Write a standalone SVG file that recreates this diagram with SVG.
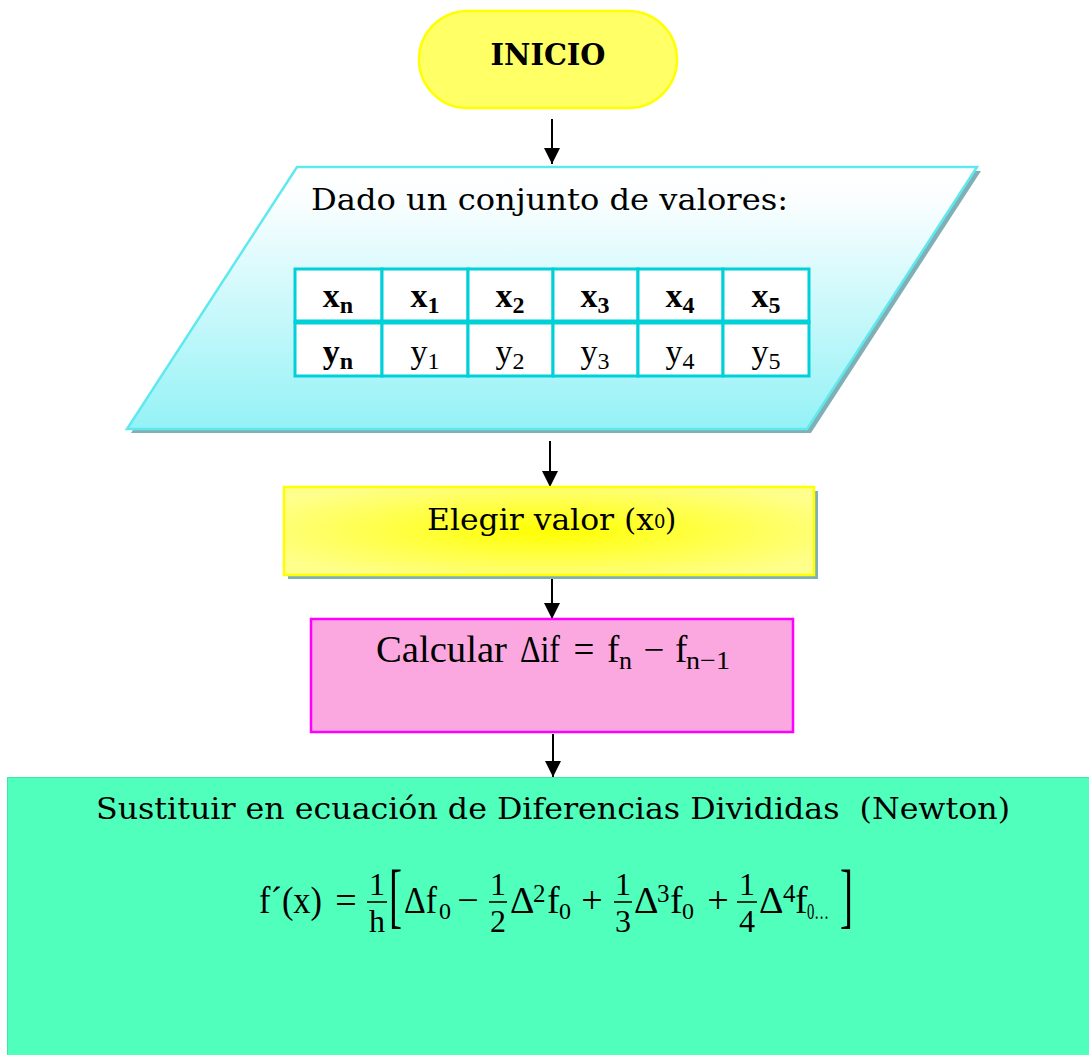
<svg xmlns="http://www.w3.org/2000/svg" width="1089" height="1055" viewBox="0 0 1089 1055">
<style>
.bk{font-family:"DejaVu Serif","Liberation Serif",serif;fill:#000}
.m{font-family:"Liberation Serif","DejaVu Serif",serif;fill:#000}
.conn{stroke:#000;stroke-width:2;fill:none}
.cell{fill:#fff;stroke:#00d0d8;stroke-width:3}
</style>
<defs>
<marker id="ah" markerUnits="userSpaceOnUse" markerWidth="16" markerHeight="16" refX="16" refY="8" orient="auto">
<path d="M0,0 L16,8 L0,16 Z" fill="#000"/>
</marker>
<linearGradient id="cyanG" x1="0" y1="0" x2="0" y2="1">
<stop offset="0" stop-color="#ffffff"/>
<stop offset="0.12" stop-color="#fbfeff"/>
<stop offset="1" stop-color="#94f2f6"/>
</linearGradient>
<radialGradient id="yelG" cx="0.5" cy="0.5" r="0.6">
<stop offset="0" stop-color="#ffff00"/>
<stop offset="1" stop-color="#ffff8c"/>
</radialGradient>
</defs>
<rect width="1089" height="1055" fill="#fff"/>

<g id="connectors">
<line class="conn" x1="552" y1="119" x2="552" y2="164" marker-end="url(#ah)"/>
<line class="conn" x1="550" y1="441" x2="550" y2="487" marker-end="url(#ah)"/>
<line class="conn" x1="552" y1="577" x2="552" y2="619" marker-end="url(#ah)"/>
<line class="conn" x1="553" y1="734" x2="553" y2="777" marker-end="url(#ah)"/>
</g>

<g id="node-inicio">
<rect x="419" y="11" width="258" height="97" rx="48.5" fill="#ffff66" stroke="#ffff00" stroke-width="2.5"/>
<text class="bk" x="548" y="65" font-size="30" font-weight="bold" text-anchor="middle" textLength="115" lengthAdjust="spacingAndGlyphs">INICIO</text>
</g>

<g id="node-datos">
<polygon points="301,171 981,171 811,433 131,433" fill="#80b0b5"/>
<polygon points="297,167 977,167 807,429 127,429" fill="url(#cyanG)" stroke="#5fe9ef" stroke-width="2.5"/>
<text class="bk" x="311" y="210" font-size="30" textLength="477" lengthAdjust="spacingAndGlyphs">Dado un conjunto de valores:</text>
<g id="tabla">
<rect class="cell" x="295" y="269" width="87" height="53"/>
<rect class="cell" x="382" y="269" width="86" height="53"/>
<rect class="cell" x="468" y="269" width="85" height="53"/>
<rect class="cell" x="553" y="269" width="85" height="53"/>
<rect class="cell" x="638" y="269" width="85" height="53"/>
<rect class="cell" x="723" y="269" width="86" height="53"/>
<rect class="cell" x="295" y="322" width="87" height="54"/>
<rect class="cell" x="382" y="322" width="86" height="54"/>
<rect class="cell" x="468" y="322" width="85" height="54"/>
<rect class="cell" x="553" y="322" width="85" height="54"/>
<rect class="cell" x="638" y="322" width="85" height="54"/>
<rect class="cell" x="723" y="322" width="86" height="54"/>
<line x1="295" y1="322" x2="809" y2="322" stroke="#00d0d8" stroke-width="5"/>
<g class="m" font-size="34" font-weight="bold" text-anchor="middle">
<text x="338" y="307">x<tspan dy="6" font-size="24">n</tspan></text>
<text x="425" y="307">x<tspan dy="6" font-size="24">1</tspan></text>
<text x="510" y="307">x<tspan dy="6" font-size="24">2</tspan></text>
<text x="595" y="307">x<tspan dy="6" font-size="24">3</tspan></text>
<text x="680" y="307">x<tspan dy="6" font-size="24">4</tspan></text>
<text x="766" y="307">x<tspan dy="6" font-size="24">5</tspan></text>
<text x="338" y="363">y<tspan dy="6" font-size="24">n</tspan></text>
</g>
<g class="m" font-size="34" text-anchor="middle">
<text x="425" y="363">y<tspan dy="6" font-size="24">1</tspan></text>
<text x="510" y="363">y<tspan dy="6" font-size="24">2</tspan></text>
<text x="595" y="363">y<tspan dy="6" font-size="24">3</tspan></text>
<text x="680" y="363">y<tspan dy="6" font-size="24">4</tspan></text>
<text x="766" y="363">y<tspan dy="6" font-size="24">5</tspan></text>
</g>
</g>
</g>

<g id="node-elegir">
<rect x="288" y="491" width="530" height="88" fill="#7fafb8"/>
<rect x="284" y="487" width="530" height="88" fill="url(#yelG)" stroke="#ffff00" stroke-width="2.5"/>
<text class="bk" x="427" y="530" font-size="29" textLength="227" lengthAdjust="spacingAndGlyphs">Elegir valor (x</text>
<text class="bk" x="654" y="528" font-size="18">0</text>
<text class="bk" x="665" y="530" font-size="29">)</text>
</g>

<g id="node-calcular">
<rect x="311" y="619" width="482" height="113" fill="#fca8e0" stroke="#ff00ff" stroke-width="2.5"/>
<g class="m" font-size="37">
<text x="376" y="662" textLength="131" lengthAdjust="spacingAndGlyphs">Calcular</text>
<text x="520" y="662" textLength="40" lengthAdjust="spacingAndGlyphs">Δif</text>
<text x="584" y="662" text-anchor="middle">=</text>
<text x="607" y="662">f</text>
<text x="619" y="669" font-size="26">n</text>
<text x="654" y="662" text-anchor="middle">−</text>
<text x="675" y="662">f</text>
<text x="686" y="669" font-size="26" textLength="44" lengthAdjust="spacingAndGlyphs">n−1</text>
</g>
</g>

<g id="node-sustituir">
<rect x="7.5" y="777.5" width="1082" height="278" fill="#50ffbc" stroke="#3fe6a8" stroke-width="1"/>
<text class="bk" x="96" y="819" font-size="30" textLength="914" lengthAdjust="spacingAndGlyphs">Sustituir en ecuación de Diferencias Divididas &#160;(Newton)</text>
<g class="m" font-size="38">
<text x="259" y="913" textLength="63" lengthAdjust="spacingAndGlyphs">f´(x)</text>
<text x="346" y="913" text-anchor="middle">=</text>
<text x="377" y="895" font-size="32" text-anchor="middle">1</text>
<line x1="367" y1="902" x2="387" y2="902" stroke="#000" stroke-width="1.6"/>
<text x="377" y="932" font-size="32" text-anchor="middle">h</text>
<text transform="translate(389,919) scale(0.55,1)" font-size="71">[</text>
<text x="404" y="913" textLength="33" lengthAdjust="spacingAndGlyphs">Δf</text>
<text x="439" y="919" font-size="24">0</text>
<text x="468" y="913" text-anchor="middle">−</text>
<text x="498" y="895" font-size="32" text-anchor="middle">1</text>
<line x1="489" y1="902" x2="507" y2="902" stroke="#000" stroke-width="1.6"/>
<text x="498" y="932" font-size="32" text-anchor="middle">2</text>
<text x="510" y="913">Δ</text>
<text x="533" y="902" font-size="25">2</text>
<text x="547" y="913">f</text>
<text x="559" y="919" font-size="24">0</text>
<text x="592" y="913" text-anchor="middle">+</text>
<text x="623" y="895" font-size="32" text-anchor="middle">1</text>
<line x1="614" y1="902" x2="632" y2="902" stroke="#000" stroke-width="1.6"/>
<text x="623" y="932" font-size="32" text-anchor="middle">3</text>
<text x="634" y="913">Δ</text>
<text x="657" y="902" font-size="25">3</text>
<text x="670" y="913">f</text>
<text x="682" y="919" font-size="24">0</text>
<text x="718" y="913" text-anchor="middle">+</text>
<text x="747" y="895" font-size="32" text-anchor="middle">1</text>
<line x1="737" y1="902" x2="757" y2="902" stroke="#000" stroke-width="1.6"/>
<text x="747" y="932" font-size="32" text-anchor="middle">4</text>
<text x="759" y="913">Δ</text>
<text x="783" y="902" font-size="25">4</text>
<text x="795" y="913">f</text>
<text x="807" y="919" font-size="24" textLength="22" lengthAdjust="spacingAndGlyphs">0…</text>
<text transform="translate(840,919) scale(0.55,1)" font-size="71">]</text>
</g>
</g>
</svg>
